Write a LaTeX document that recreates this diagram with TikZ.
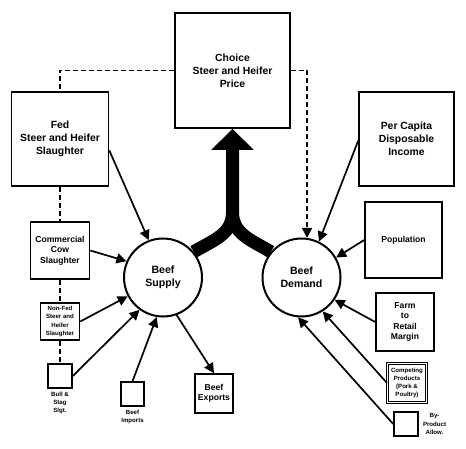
\documentclass[tikz,border=0pt]{standalone}
\usepackage{fontspec}
\setmainfont{Liberation Sans}
\usetikzlibrary{arrows.meta,positioning}
\pgfdeclarelayer{bg}
\pgfsetlayers{bg,main}
\tikzset{
  box/.style={draw, line width=1.6pt, fill=white, inner sep=0pt, align=center, font=\bfseries},
  bigtxt/.style={font=\bfseries\fontsize{10.4}{13}\selectfont},
  midtxt/.style={font=\bfseries\fontsize{8.6}{10.5}\selectfont},
  smalltxt/.style={font=\bfseries\fontsize{6.1}{8.2}\selectfont},
  bubble/.style={draw, circle, line width=2pt, fill=white, minimum size=78pt, inner sep=0pt, align=center, font=\bfseries\fontsize{10.6}{13}\selectfont},
  feed/.style={line width=1.7pt, -{Triangle[length=10pt,width=10pt]}},
  link/.style={line width=1.5pt, dash pattern=on 5pt off 3pt},
}
\begin{document}
\begin{tikzpicture}[x=1pt, y=-1pt]
	%%%%% START %%%%%
	\useasboundingbox (0,0) rectangle (466,449);
	
	\node[box, bigtxt, minimum width=115pt, minimum height=115pt] (choice) at (232.5, 70.5) {Choice\\Steer and Heifer\\Price};
	\node[box, bigtxt, minimum width=97pt, minimum height=94pt] (fed) at (60, 139) {Fed\\Steer and Heifer\\Slaughter};
	\node[box, bigtxt, minimum width=95pt, minimum height=94pt] (pcap) at (406.5, 139) {Per Capita\\Disposable\\Income};
	
	\node[box, midtxt, minimum width=59pt, minimum height=57pt] (com) at (60, 250.5) {Commercial\\Cow\\Slaughter};
	\node[box, smalltxt, minimum width=39pt, minimum height=37pt] (nonfed) at (60, 321.5) {Non-Fed\\Steer and\\Heifer\\Slaughter};
	\node[box, minimum width=24pt, minimum height=24pt] (bull) at (60, 376) {};
	\node[smalltxt, align=center, inner sep=0pt, below=3pt of bull] (bull-lbl) {Bull \&\\Stag\\Slgt.};
	\node[box, minimum width=23pt, minimum height=24pt] (imp) at (132.5, 394) {};
	\node[smalltxt, align=center, inner sep=0pt, below=3pt of imp] (imp-lbl) {Beef\\Imports};
	\node[box, midtxt, minimum width=38pt, minimum height=39pt] (exp) at (214, 393.5) {Beef\\Exports};
	
	\node[box, midtxt, minimum width=77pt, minimum height=76pt] (pop) at (403.5, 240) {Population};
	\node[box, midtxt, minimum width=58pt, minimum height=58pt] (farm) at (405, 322) {Farm\\to\\Retail\\Margin};
	\node[box, smalltxt, double, line width=1pt, double distance=0.7pt, minimum width=39pt, minimum height=39pt] (comp) at (407, 383) {Competing\\Products\\(Pork \&\\Poultry)};
	\node[box, minimum width=24pt, minimum height=24pt] (byp) at (406, 424) {};
	\node[smalltxt, align=center, inner sep=0pt, right=4pt of byp] (byp-lbl) {By-\\Product\\Allow.};
	
	\node[bubble] (sup) at (163, 277.5) {Beef\\Supply};
	\node[bubble] (dem) at (301.5, 277.5) {Beef\\Demand};
	
	% big arrow into the price
	\begin{pgfonlayer}{bg}
		\draw[line width=13pt, -{Triangle[length=21pt,width=41pt]}] (sup.40) .. controls (214,240) and (232.5,234) .. (232.5,212) -- (choice.south);
		\draw[line width=13pt] (dem.140) .. controls (251,240) and (232.5,234) .. (232.5,212);
	\end{pgfonlayer}
	
	% supply side
	\draw[feed] (fed.-13) -- (sup.111);
	\draw[feed] (com.east) -- (sup.156);
	\draw[feed] (nonfed.east) -- (sup.208);
	\draw[feed] (bull.east) -- (sup.234);
	\draw[feed] (imp.north) -- (sup.261);
	\draw[feed] (sup.290) -- (exp.north);
	
	% demand side
	\draw[feed] (pcap.182) -- (dem.64);
	\draw[feed] (pop.west) -- (dem.30);
	\draw[feed] (farm.west) -- (dem.-34);
	\draw[feed] (comp.west) -- (dem.-58);
	\draw[feed] (byp.west) -- (dem.-95);
	
	% dashed links
	\draw[link] (choice.west) -| (fed.north);
	\draw[link] (fed.south) -- (com.north);
	\draw[link] (com.south) -- (nonfed.north);
	\draw[link] (nonfed.south) -- (bull.north);
	\draw[link, -{Triangle[length=10pt,width=10pt]}] (choice.east) -| (dem.82);
	
	%%%%% END %%%%%
\end{tikzpicture}
\end{document}
